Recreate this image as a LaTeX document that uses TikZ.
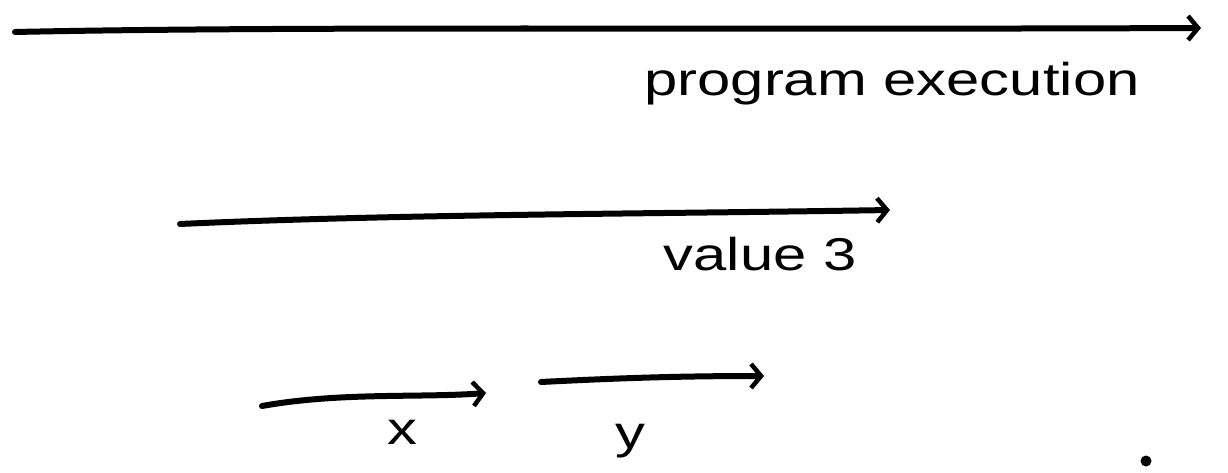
\documentclass[tikz,border=0pt]{standalone}
\usepackage{fontspec}
\setmainfont{Liberation Sans}
\usetikzlibrary{arrows.meta}
\begin{document}
\begin{tikzpicture}[x=1pt,y=-1pt,
  stroke/.style={line width=6pt, line cap=round, -{Straight Barb[length=10pt,width=24pt,line width=4.5pt]}},
  lbl/.style={font=\fontsize{46}{52}\selectfont, inner sep=0pt, anchor=base, xscale=1.3}]
\useasboundingbox[fill=white] (0,0) rectangle (1228,473);
\coordinate (a1) at (15,32);
\coordinate (a2) at (1201,28);
\coordinate (b1) at (180,224);
\coordinate (b2) at (890,210);
\coordinate (c1) at (262,406);
\coordinate (c2) at (486,393);
\coordinate (d1) at (541,382);
\coordinate (d2) at (764,376);
\draw[stroke] (a1) .. controls (300,26) and (700,30) .. (a2);
\draw[stroke] (b1) .. controls (400,214) and (650,214) .. (b2);
\draw[stroke] (c1) .. controls (340,392) and (420,398) .. (c2);
\draw[stroke] (d1) .. controls (620,378) and (680,376) .. (d2);
\node[lbl] (t1) at (892,96) {program execution};
\node[lbl] (t2) at (760,270) {value 3};
\node[lbl] (t3) at (402,444) {x};
\node[lbl] (t4) at (630,448) {y};
\fill (1146,461) circle (5.5pt) node (dot) {};
\end{tikzpicture}
\end{document}
